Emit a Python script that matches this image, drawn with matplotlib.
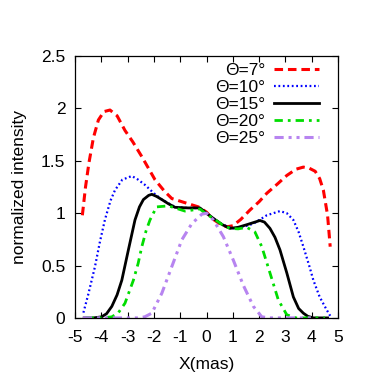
import matplotlib
matplotlib.use("Agg")
import matplotlib.pyplot as plt

plt.rcParams['font.family'] = ['Liberation Sans', 'DejaVu Sans']
plt.rcParams['axes.unicode_minus'] = False

# Theta = 7 deg
x7 = [-4.72, -4.6, -4.47, -4.3, -4.11, -3.9, -3.67, -3.4, -3.1, -2.8, -2.46, -1.96, -1.6, -1.32,
      -0.82, -0.31, 0.0, 0.2, 0.5, 0.77, 1.0, 1.3, 1.65, 2.0, 2.29, 2.7, 3.05, 3.4, 3.68, 3.9,
      4.13, 4.3, 4.44, 4.6, 4.70]
y7 = [0.98, 1.25, 1.48, 1.72, 1.89, 1.97, 1.985, 1.93, 1.79, 1.68, 1.54, 1.32, 1.21, 1.14,
      1.10, 1.06, 1.01, 0.95, 0.90, 0.87, 0.88, 0.94, 1.03, 1.11, 1.19, 1.28, 1.36, 1.42, 1.44, 1.43,
      1.40, 1.33, 1.22, 0.98, 0.68]

# Theta = 10 deg
x10 = [-4.68, -4.5, -4.24, -4.05, -3.86, -3.65, -3.48, -3.2, -2.84, -2.6, -2.34, -2.0, -1.7,
       -1.2, -0.75, -0.44, -0.2, 0.0, 0.26, 0.6, 1.02, 1.4, 1.78, 2.29, 2.79, 3.05, 3.3, 3.5,
       3.68, 3.9, 4.06, 4.3, 4.57, 4.70]
y10 = [0.05, 0.22, 0.49, 0.73, 0.94, 1.12, 1.22, 1.32, 1.355, 1.32, 1.27, 1.19, 1.13,
       1.06, 1.05, 1.05, 1.04, 1.0, 0.95, 0.89, 0.855, 0.87, 0.90, 0.98, 1.02, 1.0, 0.935, 0.82,
       0.68, 0.50, 0.36, 0.20, 0.075, 0.02]

# Theta = 15 deg
x15 = [-4.65, -4.3, -3.99, -3.8, -3.6, -3.4, -3.22, -2.97, -2.72, -2.55, -2.4, -2.2, -2.08,
       -1.9, -1.7, -1.45, -1.2, -0.69, -0.25, 0.0, 0.26, 0.6, 0.89, 1.2, 1.53, 2.03, 2.2, 2.41,
       2.6, 2.79, 3.05, 3.3, 3.5, 3.68, 3.85, 4.06, 4.6]
y15 = [0.0, 0.0, 0.01, 0.04, 0.11, 0.22, 0.36, 0.65, 0.935, 1.06, 1.13, 1.17, 1.18,
       1.16, 1.13, 1.09, 1.056, 1.05, 1.05, 1.0, 0.95, 0.89, 0.855, 0.865, 0.89, 0.93, 0.915, 0.855,
       0.77, 0.65, 0.43, 0.20, 0.09, 0.045, 0.015, 0.0, 0.0]

# Theta = 20 deg
x20 = [-4.6, -4.0, -3.6, -3.35, -3.1, -2.78, -2.6, -2.46, -2.3, -2.15, -1.9, -1.45, -0.82,
       -0.25, 0.0, 0.26, 0.6, 0.89, 1.2, 1.53, 1.84, 2.1, 2.41, 2.73, 3.05, 3.4, 4.5]
y20 = [0.0, 0.0, 0.01, 0.05, 0.14, 0.36, 0.52, 0.68, 0.83, 0.935, 1.06, 1.07, 1.02,
       1.04, 0.99, 0.95, 0.89, 0.855, 0.85, 0.865, 0.82, 0.68, 0.43, 0.17, 0.03, 0.0, 0.0]

# Theta = 25 deg
x25 = [-4.7, -2.6, -2.35, -2.08, -1.7, -1.32, -0.94, -0.56, -0.18, 0.0, 0.26, 0.64, 1.02,
       1.4, 1.78, 2.1, 2.4, 4.0]
y25 = [0.0, 0.0, 0.01, 0.045, 0.235, 0.49, 0.745, 0.90, 0.99, 1.0, 0.935, 0.775, 0.55,
       0.31, 0.11, 0.01, 0.0, 0.0]

fig = plt.figure(figsize=(3.74, 3.74), dpi=100)
ax = fig.add_axes([0.2005, 0.150, 0.7035, 0.700])

ax.plot(x7, y7, color='#ff0000', lw=2.2, ls=(0, (2.8, 1.6)), label='Θ=7°')
ax.plot(x10, y10, color='#0000ff', lw=1.6, ls=(0, (0.8, 1.2)), label='Θ=10°')
ax.plot(x15, y15, color='black', lw=2.0, label='Θ=15°')
ax.plot(x20, y20, color='#00dd00', lw=2.0, ls=(0, (3, 1.8, 1, 1.8)), label='Θ=20°')
ax.plot(x25, y25, color='#b784f0', lw=2.2, ls=(0, (3, 1.6, 1, 1.6, 1, 1.6)), label='Θ=25°')

ax.set_xlim(-5, 5)
ax.set_ylim(0, 2.5)
ax.set_xticks(range(-5, 6))
ax.set_yticks([0, 0.5, 1, 1.5, 2, 2.5])
ax.set_yticklabels(['0', '0.5', '1', '1.5', '2', '2.5'])
ax.tick_params(direction='in', length=4, width=0.8, top=True, right=True,
               labelsize=12.5)
ax.tick_params(axis='x', pad=9)
ax.tick_params(axis='y', pad=7)
for s in ax.spines.values():
    s.set_linewidth(0.9)

ax.set_xlabel('X(mas)', fontsize=12.5, labelpad=8)
ax.set_ylabel('normalized intensity', fontsize=12.5, labelpad=10)

ax.legend(loc='upper right', frameon=False, markerfirst=False, fontsize=12.5,
          handlelength=2.6, handletextpad=0.5, labelspacing=0.1,
          borderaxespad=0.0, bbox_to_anchor=(0.955, 1.0))

fig.savefig('out.png', dpi=100)
